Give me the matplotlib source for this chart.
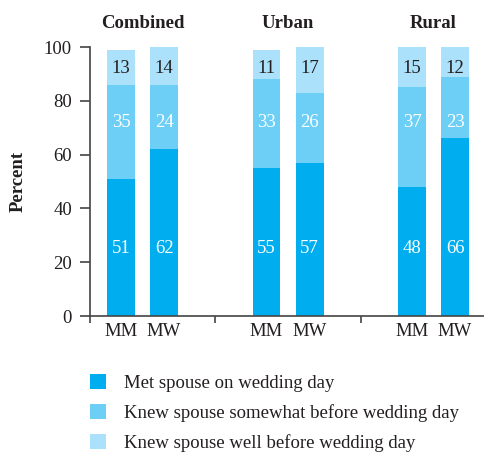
import numpy as np
import matplotlib.pyplot as plt
from matplotlib.patches import Patch

plt.rcParams['font.family'] = ['Liberation Serif', 'DejaVu Serif']

# Survey shares (percent) for men (MM) and women (MW)
groups = ["Combined", "Urban", "Rural"]
sexes = ["MM", "MW"]
met_on_day = [51, 62, 55, 57, 48, 66]
knew_somewhat = [35, 24, 33, 26, 37, 23]
knew_well = [13, 14, 11, 17, 15, 12]
series_names = ["Met spouse on wedding day",
                "Knew spouse somewhat before wedding day",
                "Knew spouse well before wedding day"]

colors = ["#00AEEF", "#6DCFF6", "#ABE1FA"]
text_dark = "#231F20"
fs = 13.5

fig = plt.figure(figsize=(4.85, 4.53), dpi=100)
ax = fig.add_axes([0.1856, 0.3024, 0.8144, 0.5938])

offset = 0.148
width = 0.192
xpos = []
for g in range(len(groups)):
    xpos += [g - offset, g + offset]
xpos = np.array(xpos)

series = [np.array(met_on_day), np.array(knew_somewhat), np.array(knew_well)]
bottom = np.zeros(len(xpos))
for vals, c in zip(series, colors):
    ax.bar(xpos, vals, width, bottom=bottom, color=c, linewidth=0)
    bottom += vals

# value labels sit at fixed heights inside each segment band
label_y = [25, 72, 92]
label_c = ["white", "white", text_dark]
for vals, ly, lc in zip(series, label_y, label_c):
    for x, v in zip(xpos, vals):
        ax.text(x, ly, str(v), ha="center", va="center", fontsize=fs, color=lc)

for g, name in enumerate(groups):
    ax.text(g, 108.6, name, ha="center", va="center", fontsize=fs,
            fontweight="bold", color=text_dark)

ax.set_xlim(-0.361, 2.354)
ax.set_ylim(0, 100)
ax.set_yticks(range(0, 101, 20))
ax.set_xticks(xpos)
ax.set_xticklabels(sexes * len(groups))
ax.set_xticks([-0.361, 0.5, 1.5], minor=True)
ax.tick_params(axis="x", which="major", length=0, pad=5, labelsize=fs,
               labelcolor=text_dark)
ax.tick_params(axis="x", which="minor", length=5, width=1.2, color="#444444")
ax.tick_params(axis="y", length=7, width=1.2, color="#444444", labelsize=fs,
               labelcolor=text_dark, pad=6)
ax.set_ylabel("Percent", fontsize=fs, fontweight="bold", color=text_dark)
ax.yaxis.set_label_coords(-0.16, 0.5)

for side in ["top", "right"]:
    ax.spines[side].set_visible(False)
for side in ["left", "bottom"]:
    ax.spines[side].set_linewidth(1.2)
    ax.spines[side].set_color("#444444")

handles = [Patch(facecolor=c, edgecolor="none") for c in colors]
fig.legend(handles, series_names, loc="upper left",
           bbox_to_anchor=(0.17, 0.19), frameon=False, fontsize=fs,
           handlelength=0.85, handleheight=0.85, handletextpad=0.95,
           labelspacing=0.62, labelcolor=text_dark, borderaxespad=0)

fig.savefig("out.png", dpi=100)
